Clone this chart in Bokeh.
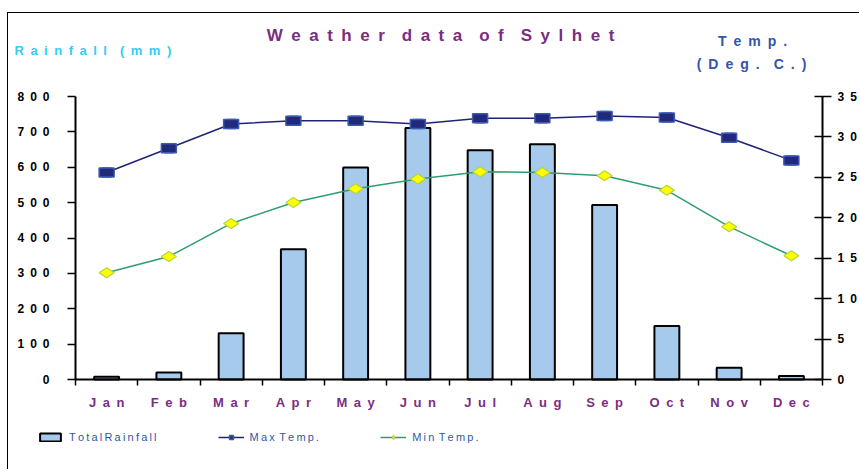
from bokeh.plotting import figure
from bokeh.models import (Range1d, LinearAxis, FixedTicker, Label, Legend, LegendItem)
from bokeh.embed import file_html
from bokeh.resources import INLINE

months = ["Jan", "Feb", "Mar", "Apr", "May", "Jun", "Jul", "Aug", "Sep", "Oct", "Nov", "Dec"]
rainfall = [8, 20, 131, 368, 599, 711, 648, 665, 493, 151, 33, 10]
max_temp = [25.6, 28.6, 31.6, 32.0, 32.0, 31.6, 32.3, 32.3, 32.6, 32.4, 29.9, 27.1]
min_temp = [13.2, 15.2, 19.3, 21.9, 23.6, 24.8, 25.7, 25.6, 25.2, 23.4, 18.9, 15.3]
rain_ticks = [0, 100, 200, 300, 400, 500, 600, 700, 800]
temp_ticks = [0, 5, 10, 15, 20, 25, 30, 35]

title_text = "Weather data of Sylhet"
rain_axis_text = "Rainfall (mm)"
temp_axis_lines = ["Temp.", "(Deg. C.)"]
series_names = ["TotalRainfall", "Max Temp.", "Min Temp."]

EN = "\u2002"
THIN = "\u2009"


def sp(s, gap=EN):
    return (gap * 2).join(gap.join(w) for w in s.split(" "))


FONT = "Liberation Sans"
PURPLE = "#7B2C83"
BLUE = "#3355AA"

# ---- layout (page pixels) ----
FIG_X, FIG_Y, W, H = 8, 13, 852, 457          # canvas position / size on the page
AX_L, AX_R, AX_T, AX_B = 75, 822, 96, 379      # axes box on the page
n = len(months)
rain_max = rain_ticks[-1]
temp_max = temp_ticks[-1]


def ext_range(lo, hi, p_lo, p_hi, page_lo, page_hi):
    # range whose [lo, hi] lands on page pixels [p_lo, p_hi] of a canvas spanning [page_lo, page_hi]
    k = (hi - lo) / (p_hi - p_lo)
    return Range1d(lo - (p_lo - page_lo) * k, hi + (page_hi - p_hi) * k)


x_range = ext_range(0, n, AX_L, AX_R, FIG_X, FIG_X + W)
# vertical: page y grows downwards, so map bottom/top explicitly
y_range = ext_range(0, rain_max, -AX_B, -AX_T, -(FIG_Y + H), -FIG_Y)
t_range = ext_range(0, temp_max, -AX_B, -AX_T, -(FIG_Y + H), -FIG_Y)

xc = [i + 0.5 for i in range(n)]
xb = list(range(n + 1))

p = figure(width=W, height=H, x_range=x_range, y_range=y_range,
           output_backend="svg", toolbar_location=None, title_location=None,
           x_axis_location=None, y_axis_location=None,
           min_border=0, min_border_left=0, min_border_right=0,
           min_border_top=0, min_border_bottom=0)
p.styles = {"margin-left": "7px", "margin-top": "12px",
            "border-left": "1px solid black", "border-top": "1px solid black"}
p.outline_line_color = None
p.xgrid.visible = False
p.ygrid.visible = False
p.extra_y_ranges = {"temp": t_range}


def style_labels(ax, size, color, bold=True):
    ax.major_label_text_font = FONT
    ax.major_label_text_font_style = "bold" if bold else "normal"
    ax.major_label_text_font_size = size
    ax.major_label_text_color = color
    ax.minor_tick_line_color = None


# left axis
ly = LinearAxis(ticker=FixedTicker(ticks=rain_ticks), fixed_location=0, bounds=(0, rain_max),
                major_label_overrides={t: sp(str(t)) for t in rain_ticks})
ly.axis_line_width = 2
ly.major_tick_out = 8
ly.major_tick_in = 0
ly.major_tick_line_width = 1.5
ly.major_label_standoff = 18
style_labels(ly, "12px", "black")
p.add_layout(ly, "left")

# right axis
ry = LinearAxis(y_range_name="temp", ticker=FixedTicker(ticks=temp_ticks), fixed_location=n,
                bounds=(0, temp_max), major_label_overrides={t: sp(str(t)) for t in temp_ticks})
ry.axis_line_width = 2
ry.major_tick_out = 9
ry.major_tick_in = 8
ry.major_tick_line_width = 1.5
ry.major_label_standoff = 6
style_labels(ry, "12px", "black")
p.add_layout(ry, "right")

# bottom axis: line and category-boundary ticks
bx = LinearAxis(ticker=FixedTicker(ticks=xb), fixed_location=0, bounds=(0, n),
                major_label_overrides={i: "" for i in xb})
bx.axis_line_width = 2
bx.major_tick_out = 6
bx.major_tick_in = 0
bx.major_tick_line_width = 1.5
style_labels(bx, "1px", "black")
p.add_layout(bx, "below")

# month labels at category centres
mx = LinearAxis(ticker=FixedTicker(ticks=xc), fixed_location=0,
                major_label_overrides={x: sp(m) for x, m in zip(xc, months)})
mx.axis_line_color = None
mx.major_tick_line_color = None
mx.major_tick_out = 0
mx.major_tick_in = 0
mx.major_label_standoff = 15
style_labels(mx, "13px", PURPLE)
p.add_layout(mx, "below")

bars = p.vbar(x=xc, top=rainfall, width=0.4, fill_color="#A6CAEC",
              line_color="black", line_width=2)

max_line = p.line(x=xc, y=max_temp, y_range_name="temp", line_color="#1F2378", line_width=1.5)
max_sq = p.scatter(x=xc, y=max_temp, y_range_name="temp", marker="square", size=9,
                   fill_color="#23297A", line_color="#3A5BB0", line_width=1.5)
p.rect(x=xc, y=max_temp, y_range_name="temp", width=15, height=9,
       width_units="screen", height_units="screen",
       fill_color="#23297A", line_color="#3A5BB0", line_width=1.5)

min_line = p.line(x=xc, y=min_temp, y_range_name="temp", line_color="#2E9E6E", line_width=1.5)
min_dm = p.scatter(x=xc, y=min_temp, y_range_name="temp", marker="diamond", size=15,
                   angle=1.5708, fill_color="#FFFF00", line_color="#B5D43A", line_width=1.2)

legend = Legend(items=[LegendItem(label=sp(series_names[0], THIN), renderers=[bars]),
                       LegendItem(label=sp(series_names[1], THIN), renderers=[max_line, max_sq]),
                       LegendItem(label=sp(series_names[2], THIN), renderers=[min_line, min_dm])],
                orientation="horizontal", location=(37 - FIG_X, FIG_Y + H - 443),
                padding=0, margin=0, spacing=61, label_standoff=6,
                glyph_width=26, glyph_height=10, label_height=10,
                label_text_font=FONT, label_text_font_size="11px",
                label_text_color=BLUE, border_line_color=None, background_fill_alpha=0)
p.add_layout(legend, "center")


def header(text, page_x, page_y, align, color, size):
    p.add_layout(Label(x=page_x - FIG_X, y=FIG_Y + H - page_y, x_units="screen", y_units="screen",
                       text=text, text_align=align, text_baseline="middle",
                       text_font=FONT, text_font_style="bold",
                       text_font_size=size, text_color=color))


header(sp(title_text), 440, 35, "center", PURPLE, "17px")
header(sp(rain_axis_text), 14, 50, "left", "#33CCF5", "13px")
header(sp(temp_axis_lines[0]), 752, 40, "center", BLUE, "14px")
header(sp(temp_axis_lines[1]), 751, 63, "center", BLUE, "14px")

open("out.html", "w").write(file_html(p, INLINE))
